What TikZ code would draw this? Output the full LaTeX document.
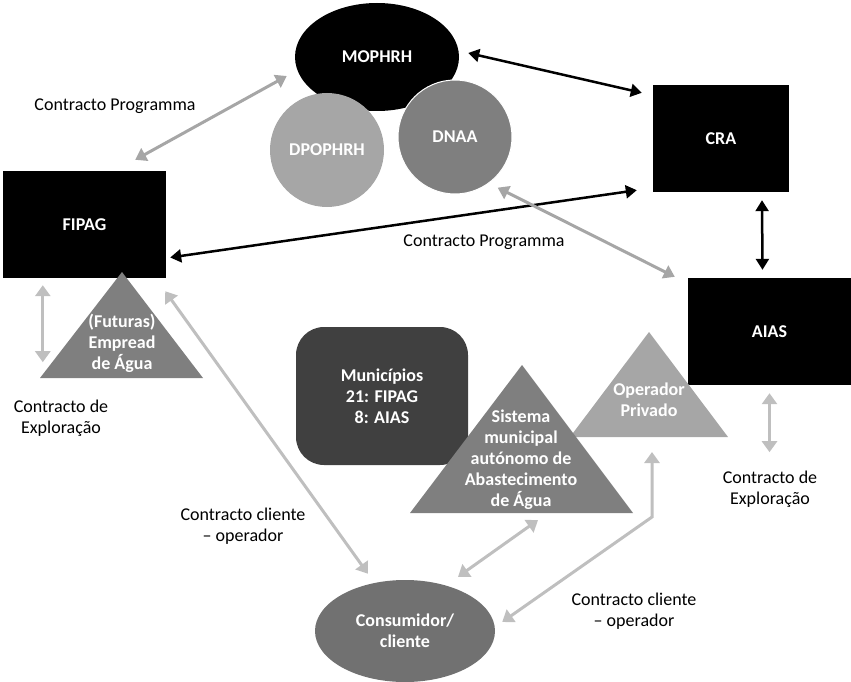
\documentclass[tikz,border=0pt]{standalone}
\usepackage{fontspec}
\setmainfont{Carlito}
\usetikzlibrary{shapes.geometric, arrows.meta}

\definecolor{greyA}{HTML}{A6A6A6}
\definecolor{greyB}{HTML}{7F7F7F}
\definecolor{greyC}{HTML}{404040}
\definecolor{greyD}{HTML}{717171}
\definecolor{greyL}{HTML}{BFBFBF}
\newcommand{\diagfont}{\fontsize{18}{21}\selectfont}

\begin{document}
\begin{tikzpicture}[
    x=1pt, y=-1pt,
    every node/.style={font=\diagfont, align=center, inner sep=0pt},
    org/.style={rectangle, fill=black, text=white, font=\diagfont\bfseries, minimum width=163pt, minimum height=107pt},
    blob/.style={ellipse, text=white, font=\diagfont\bfseries},
    disc/.style={circle, text=white, font=\diagfont\bfseries, minimum size=114pt},
    tri/.style={text=white, font=\diagfont\bfseries},
    dark/.style={line width=2.5pt, <->, >={Triangle[length=11pt, width=13pt]}},
    prog/.style={line width=3pt, draw=greyA, <->, >={Triangle[length=11pt, width=14pt]}},
    link/.style={line width=3pt, draw=greyL, <->, >={Triangle[length=11pt, width=15pt]}}
]
\useasboundingbox (0,0) rectangle (851,682);

% Ministry and its directorates
\node[blob, fill=black, minimum width=164pt, minimum height=108pt] (mophrh) at (377,57) {MOPHRH};
\node[disc, fill=greyA] (dpophrh) at (327,150) {DPOPHRH};
\node[disc, fill=greyB, draw=white, line width=1pt] (dnaa) at (455,137) {DNAA};

% Main blocks
\node[org, minimum width=136pt] (cra) at (721,138.5) {CRA};
\node[org] (fipag) at (84.5,224.5) {FIPAG};
\node[org] (aias) at (769.5,331.5) {AIAS};
\node[rectangle, fill=greyC, rounded corners=28pt, text=white, font=\diagfont\bfseries,
      minimum width=172pt, minimum height=138pt] (munic) at (382,396) {Municípios\\21: FIPAG\\8: AIAS};
\node[blob, fill=greyD, minimum width=180pt, minimum height=102pt] (cons) at (405,631) {Consumidor/\\cliente};

% Triangles
\coordinate (futBase) at (122,378);
\coordinate (operBase) at (649,437);
\coordinate (sisBase) at (522,513);
\fill[greyB] (40,378) -- (122,272) -- (203,378) -- cycle;
\node[tri] (futuras) at (122,343) {(Futuras)\\Empread\\de Água};
\fill[greyA] (570,437) -- (649,332) -- (728,437) -- cycle;
\node[tri] (operador) at (649,400) {Operador\\Privado};
\fill[greyB] (410,513) -- (522,365) -- (633,513) -- cycle;
\node[tri] (sistema) at (521,460) {Sistema\\municipal\\autónomo de\\Abastecimento\\de Água};

% Labels
\node (progA) at (115,106) {Contracto Programma};
\node (progB) at (484,242) {Contracto Programma};
\node (explL) at (61,418) {Contracto de\\Exploração};
\node (explR) at (770,489) {Contracto de\\Exploração};
\node (cliL) at (243,526) {Contracto cliente\\– operador};
\node (cliR) at (634,611) {Contracto cliente\\– operador};

% Arrows
\draw[prog] ([shift={(-31,-11)}]fipag.north east) -- ([shift={(-8,19)}]mophrh.west);
\draw[dark] ([shift={(9,-4)}]mophrh.east) -- ([shift={(-11,8)}]cra.north west);
\draw[dark] ([shift={(4,33)}]fipag.east) -- ([shift={(-16,-2)}]cra.south west);
\draw[prog] ([shift={(2,10)}]dnaa.south east) -- ([shift={(-13,-1)}]aias.north west);
\draw[dark] ([shift={(41,8)}]cra.south) -- ([shift={(-7,-8)}]aias.north);
\draw[link] ([shift={(40,7)}]fipag.south west) -- ([shift={(40,84)}]fipag.south west);
\draw[link] ([shift={(0,8)}]aias.south) -- ([shift={(0,67)}]aias.south);
\draw[link] ([shift={(-1,13)}]fipag.south east) -- ([shift={(-37,-6)}]cons.north);
\draw[link] ([shift={(16,7)}]sisBase) -- ([shift={(53,-3)}]cons.north);
\draw[link] ([shift={(3,15)}]operBase) -- ++(0,65) -- ([shift={(7,-9)}]cons.east);

\end{tikzpicture}
\end{document}
